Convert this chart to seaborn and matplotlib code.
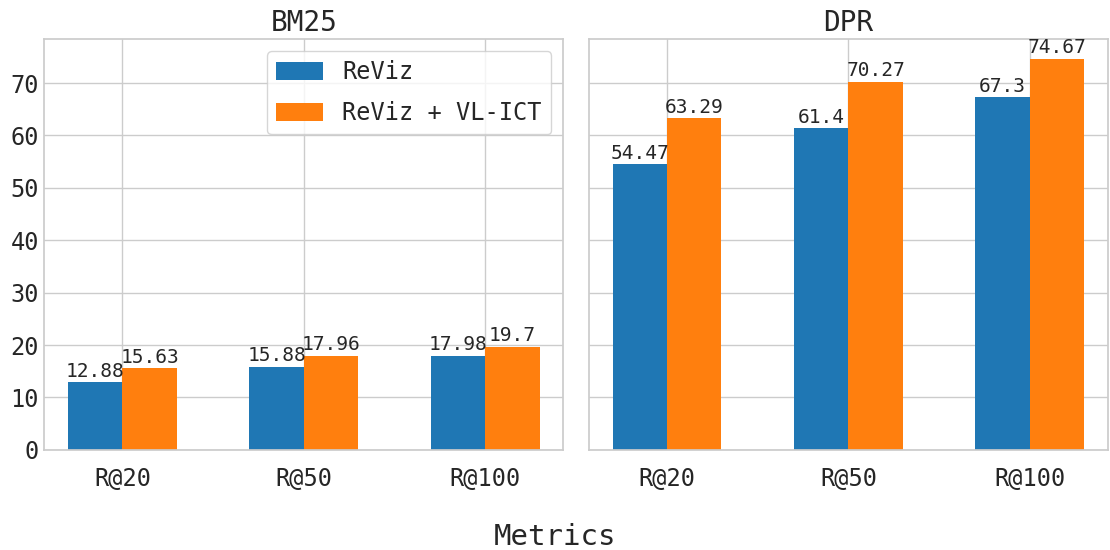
import pandas as pd
import matplotlib
matplotlib.use("Agg")
import matplotlib.pyplot as plt
import seaborn as sns

# data
metrics = ["R@20", "R@50", "R@100"]
methods = ["ReViz", "ReViz + VL-ICT"]

bm25_reviz = [12.88, 15.88, 17.98]
bm25_vlict = [15.63, 17.96, 19.7]
dpr_reviz = [54.47, 61.4, 67.3]
dpr_vlict = [63.29, 70.27, 74.67]

colors = ["#1f77b4", "#ff7f0e"]

rows = []
for retriever, a, b in [("BM25", bm25_reviz, bm25_vlict), ("DPR", dpr_reviz, dpr_vlict)]:
    for m, v in zip(metrics, a):
        rows.append({"retriever": retriever, "metric": m, "method": methods[0], "score": v})
    for m, v in zip(metrics, b):
        rows.append({"retriever": retriever, "metric": m, "method": methods[1], "score": v})
df = pd.DataFrame(rows)

sns.set_theme(style="whitegrid")
plt.rcParams["font.family"] = ["DejaVu Sans Mono", "DejaVu Sans"]

fig, axes = plt.subplots(1, 2, figsize=(11.1, 5.5), dpi=100, sharey=True)

for ax, retriever in zip(axes, ["BM25", "DPR"]):
    sns.barplot(data=df[df["retriever"] == retriever], x="metric", y="score",
                hue="method", order=metrics, hue_order=methods,
                palette=colors, saturation=1, width=0.6, linewidth=0, ax=ax)
    for cont in ax.containers:
        ax.bar_label(cont, fontsize=14, color=".15", padding=1)
    ax.set_title(retriever, fontsize=20)
    ax.set_xlabel("")
    ax.set_ylabel("")
    ax.set_xlim(-0.43, 2.43)
    ax.xaxis.grid(True)
    ax.tick_params(axis="x", labelsize=17, length=0, pad=12)
    ax.tick_params(axis="y", labelsize=17, length=0, pad=4)
    ax.get_legend().remove()

axes[0].legend(loc="upper right", fontsize=17, labelspacing=0.7, handleheight=0.8)

fig.supxlabel("Metrics", fontsize=21, y=0.024, va="center")
fig.subplots_adjust(left=0.04, right=0.998, top=0.929, bottom=0.182, wspace=0.05)

plt.savefig("out.png", dpi=100)
